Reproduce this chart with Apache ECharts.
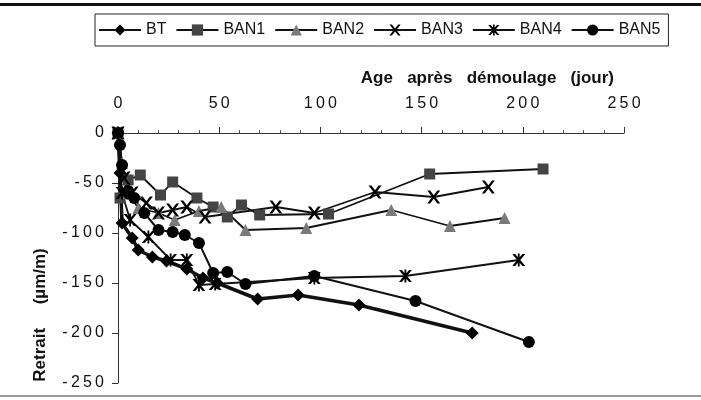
<!DOCTYPE html>
<html>
<head>
<meta charset="utf-8">
<script src="https://cdn.jsdelivr.net/npm/echarts@6/dist/echarts.min.js"></script>
<style>
  html, body { margin: 0; padding: 0; background: #fff; }
  #chart { width: 701px; height: 400px; }
</style>
</head>
<body>
<div id="chart"></div>
<script>
// jours et retraits (µm/m)
var btDays = [0, 1, 2, 7, 10, 17, 24, 34, 42, 49, 69, 89, 119, 175];
var btVals = [0, -40, -90, -105, -117, -124, -128, -136, -145, -150, -166, -162, -172, -200];

var ban1Days = [0, 1, 5, 11, 21, 27, 39, 47, 54, 61, 70, 104, 154, 210];
var ban1Vals = [0, -65, -47, -42, -62, -49, -65, -74, -84, -72, -82, -81, -41, -36];

var ban2Days = [0, 2, 5, 10, 20, 28, 40, 51, 63, 93, 135, 164, 191];
var ban2Vals = [0, -30, -60, -75, -80, -87, -78, -74, -97, -95, -77, -93, -85];

var ban3Days = [0, 3, 7, 14, 20, 27, 34, 43, 78, 97, 127, 156, 183];
var ban3Vals = [0, -45, -60, -70, -80, -77, -74, -84, -74, -80, -59, -64, -54];

var ban4Days = [0, 2, 6, 15, 26, 34, 40, 48, 97, 142, 198];
var ban4Vals = [0, -60, -87, -104, -127, -127, -152, -151, -145, -143, -127];

var ban5Days = [0, 1, 2, 5, 8, 13, 20, 27, 33, 40, 47, 54, 63, 97, 147, 203];
var ban5Vals = [0, -12, -32, -58, -65, -80, -97, -99, -102, -110, -140, -139, -151, -143, -168, -209];

var xTicks = [0, 50, 100, 150, 200, 250];
var yTicks = [0, -50, -100, -150, -200, -250];

function pairs(days, vals) {
  return days.map(function (d, i) { return [d, vals[i]]; });
}

// les chiffres de la figure sont espacés
function spaced(v) {
  return String(v).split('').join('\u2009');
}

// croix et astérisque en path (remplis)
var crossPath = 'path://M0,0 L2.2,0 L5,3.6 L7.8,0 L10,0 L6.2,5 L10,10 L7.8,10 L5,6.4 L2.2,10 L0,10 L3.8,5 Z';
var starPath = 'path://M0,0 L2.2,0 L5,3.6 L7.8,0 L10,0 L6.2,5 L10,10 L7.8,10 L5,6.4 L2.2,10 L0,10 L3.8,5 Z M4.3,-0.5 L5.7,-0.5 L5.7,10.5 L4.3,10.5 Z';

var font = 'Liberation Sans';

function serie(name, days, vals, symbol, size, fill, width) {
  return {
    name: name,
    type: 'line',
    data: pairs(days, vals),
    symbol: symbol,
    symbolSize: size,
    showAllSymbol: true,
    lineStyle: { color: '#111', width: width },
    itemStyle: { color: fill, borderWidth: 0 },
    emphasis: { disabled: true },
    animation: false
  };
}

var chart = echarts.init(document.getElementById('chart'));
chart.setOption({
  backgroundColor: '#fff',
  animation: false,
  grid: { left: 118, top: 133, right: 77, bottom: 17 },
  legend: {
    left: 95,
    top: 14,
    width: 580,
    padding: [8, 8, 8, 3],
    itemGap: 9,
    itemWidth: 42,
    itemHeight: 14,
    borderColor: '#222',
    borderWidth: 1,
    textStyle: { fontFamily: font, fontSize: 16, color: '#111' },
    data: ['BT', 'BAN1', 'BAN2', 'BAN3', 'BAN4', 'BAN5']
  },
  xAxis: {
    type: 'value',
    position: 'top',
    min: 0,
    max: 250,
    interval: 50,
    axisLine: { onZero: false, lineStyle: { color: '#333', width: 1 } },
    axisTick: { show: true, inside: false, length: 6, lineStyle: { color: '#333' } },
    minorTick: { show: true, splitNumber: 5, length: 3, lineStyle: { color: '#555' } },
    splitLine: { show: false },
    axisLabel: {
      fontFamily: font, fontSize: 16, color: '#111', margin: 21,
      formatter: function (v) { return xTicks.indexOf(v) >= 0 ? spaced(v) : ''; }
    }
  },
  yAxis: {
    type: 'value',
    min: -250,
    max: 0,
    interval: 50,
    axisLine: { onZero: false, lineStyle: { color: '#333', width: 1 } },
    axisTick: { show: true, length: 6, lineStyle: { color: '#333' } },
    splitLine: { show: false },
    axisLabel: {
      fontFamily: font, fontSize: 16, color: '#111', margin: 14,
      formatter: function (v) { return yTicks.indexOf(v) >= 0 ? spaced(v) : ''; }
    }
  },
  graphic: [
    { type: 'rect', shape: { x: 0, y: 3, width: 701, height: 3 }, style: { fill: '#111' } },
    { type: 'rect', shape: { x: 0, y: 395, width: 701, height: 2 }, style: { fill: '#999' } },
    {
      type: 'text', x: 614, y: 78,
      style: {
        text: 'Age   après   démoulage   (jour)', font: 'bold 17px "Liberation Sans"',
        fill: '#111', textAlign: 'right', textVerticalAlign: 'middle'
      }
    },
    {
      type: 'text', x: 40, y: 315, rotation: Math.PI / 2,
      style: {
        text: 'Retrait     (µm/m)', font: 'bold 17px "Liberation Sans"',
        fill: '#111', textAlign: 'center', textVerticalAlign: 'middle'
      }
    }
  ],
  series: [
    serie('BT', btDays, btVals, 'diamond', 13, '#000', 3.5),
    serie('BAN1', ban1Days, ban1Vals, 'rect', 11, '#444', 1.8),
    serie('BAN2', ban2Days, ban2Vals, 'triangle', 12, '#7a7a7a', 1.8),
    serie('BAN3', ban3Days, ban3Vals, crossPath, 13, '#000', 1.8),
    serie('BAN4', ban4Days, ban4Vals, starPath, 13, '#000', 1.8),
    serie('BAN5', ban5Days, ban5Vals, 'circle', 12, '#000', 2)
  ]
});
</script>
</body>
</html>
